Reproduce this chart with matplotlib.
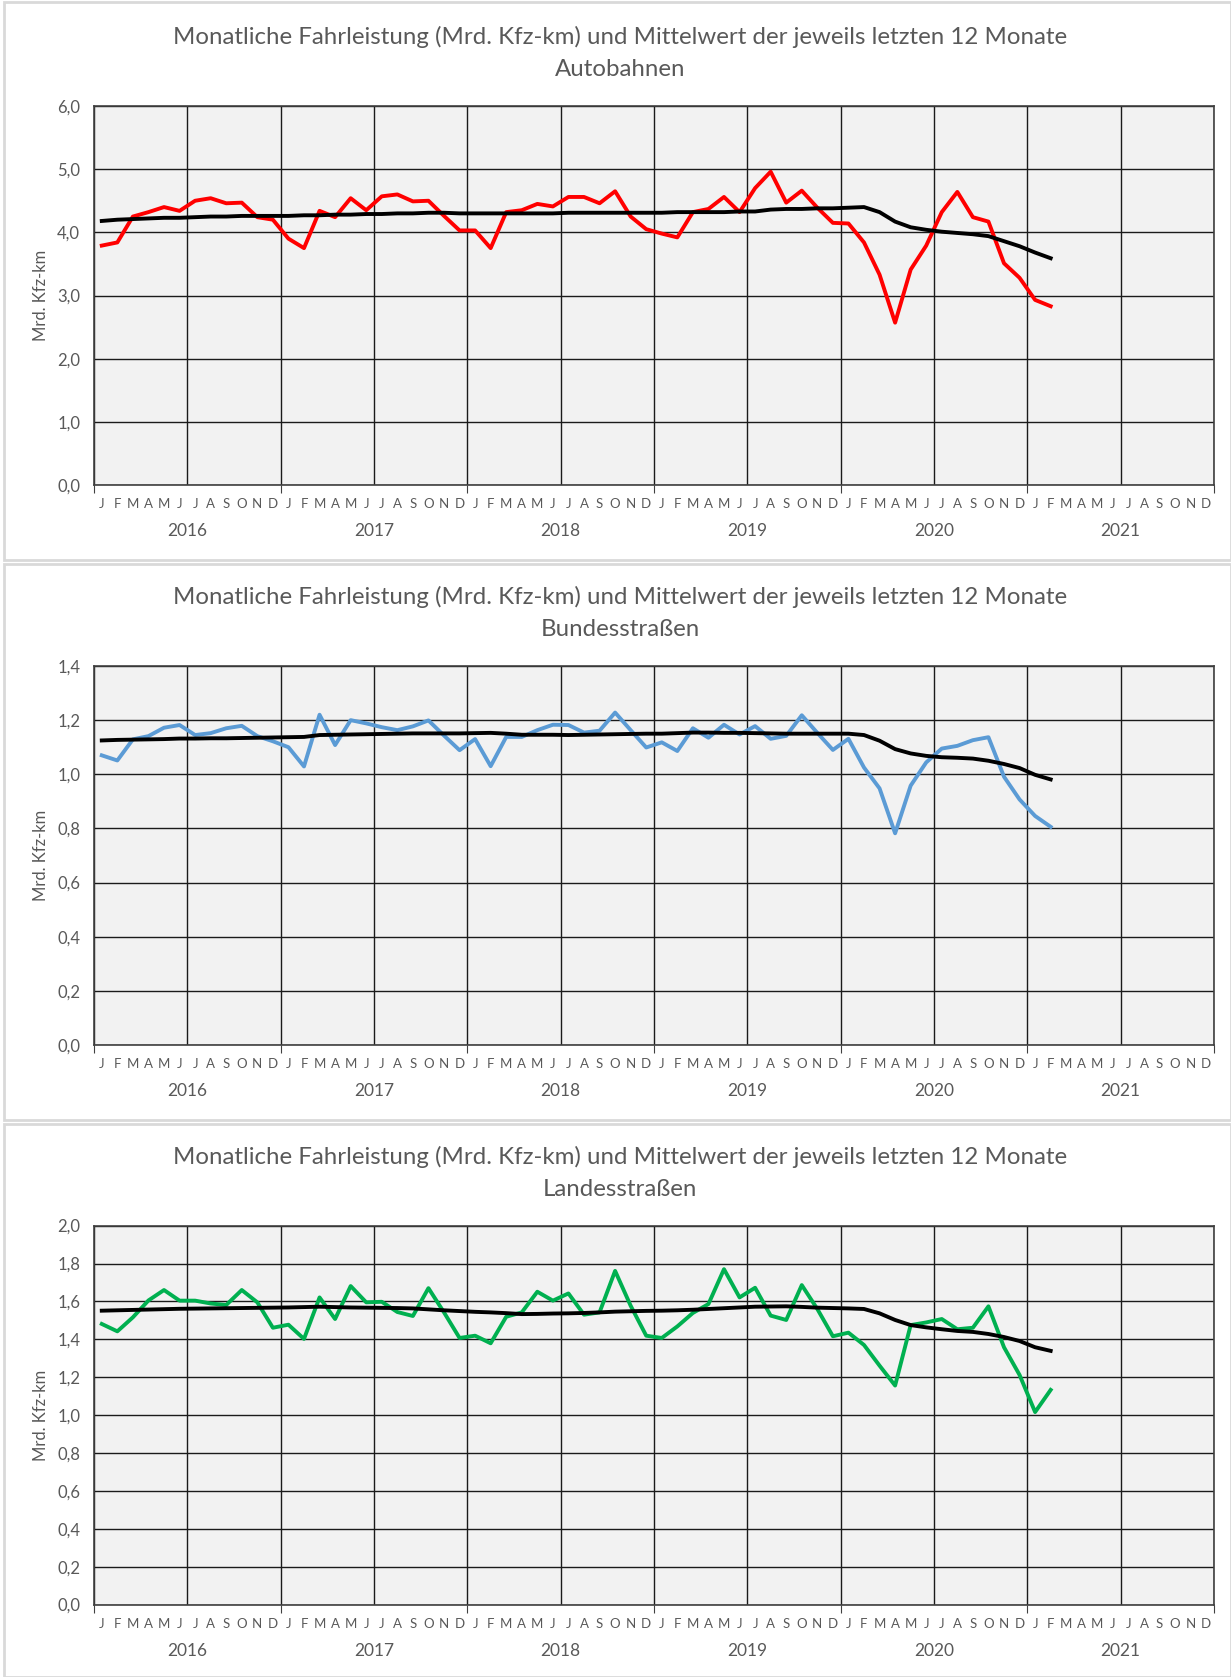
import matplotlib.pyplot as plt
from matplotlib.patches import Rectangle
import numpy as np

plt.rcParams['font.family'] = ['Lato', 'DejaVu Sans']

W, H = 1231, 1677
GREY = "#595959"

months = ["J", "F", "M", "A", "M", "J", "J", "A", "S", "O", "N", "D"]
years = ["2016", "2017", "2018", "2019", "2020", "2021"]
title_main = "Monatliche Fahrleistung (Mrd. Kfz-km) und Mittelwert der jeweils letzten 12 Monate"
subtitles = ["Autobahnen", "Bundesstraßen", "Landesstraßen"]
ylabel = "Mrd. Kfz-km"

# Jan 2016 .. Feb 2021
autobahn = [3.79, 3.84, 4.25, 4.32, 4.40, 4.34, 4.50, 4.54, 4.46, 4.47, 4.24, 4.20,
            3.90, 3.75, 4.34, 4.24, 4.54, 4.35, 4.57, 4.60, 4.49, 4.50, 4.26, 4.03,
            4.03, 3.75, 4.32, 4.35, 4.45, 4.41, 4.56, 4.56, 4.46, 4.65, 4.25, 4.05,
            3.98, 3.92, 4.32, 4.37, 4.56, 4.32, 4.70, 4.96, 4.47, 4.66, 4.39, 4.15,
            4.14, 3.84, 3.33, 2.57, 3.41, 3.79, 4.32, 4.64, 4.24, 4.17, 3.51, 3.28,
            2.93, 2.83]
autobahn_avg = [4.18, 4.20, 4.21, 4.22, 4.23, 4.23, 4.24, 4.25, 4.25, 4.26, 4.26, 4.26,
                4.26, 4.27, 4.27, 4.28, 4.28, 4.29, 4.29, 4.30, 4.30, 4.31, 4.31, 4.30,
                4.30, 4.30, 4.30, 4.30, 4.30, 4.30, 4.31, 4.31, 4.31, 4.31, 4.31, 4.31,
                4.31, 4.32, 4.32, 4.32, 4.32, 4.33, 4.33, 4.36, 4.37, 4.37, 4.38, 4.38,
                4.39, 4.40, 4.32, 4.17, 4.08, 4.04, 4.01, 3.99, 3.97, 3.94, 3.86, 3.78,
                3.68, 3.59]

bund = [1.070, 1.051, 1.129, 1.141, 1.172, 1.182, 1.145, 1.152, 1.170, 1.179, 1.141, 1.122,
        1.100, 1.029, 1.220, 1.108, 1.200, 1.188, 1.174, 1.163, 1.177, 1.199, 1.143, 1.089,
        1.130, 1.030, 1.138, 1.138, 1.163, 1.183, 1.182, 1.154, 1.161, 1.228, 1.163, 1.099,
        1.118, 1.086, 1.170, 1.135, 1.183, 1.147, 1.178, 1.131, 1.142, 1.218, 1.153, 1.090,
        1.131, 1.025, 0.948, 0.782, 0.958, 1.044, 1.095, 1.105, 1.126, 1.137, 0.991, 0.907,
        0.846, 0.806]
bund_avg = [1.125, 1.127, 1.128, 1.129, 1.130, 1.132, 1.132, 1.133, 1.133, 1.134, 1.135, 1.136,
            1.137, 1.138, 1.145, 1.146, 1.147, 1.148, 1.149, 1.150, 1.151, 1.151, 1.151, 1.151,
            1.152, 1.153, 1.150, 1.146, 1.146, 1.146, 1.145, 1.146, 1.147, 1.148, 1.149, 1.150,
            1.150, 1.152, 1.154, 1.154, 1.153, 1.153, 1.152, 1.151, 1.150, 1.150, 1.150, 1.150,
            1.150, 1.145, 1.124, 1.093, 1.077, 1.068, 1.063, 1.061, 1.058, 1.050, 1.038, 1.023,
            0.998, 0.981]

land = [1.481, 1.442, 1.516, 1.605, 1.660, 1.604, 1.604, 1.589, 1.581, 1.660, 1.595, 1.461,
        1.477, 1.402, 1.621, 1.507, 1.681, 1.595, 1.598, 1.544, 1.523, 1.670, 1.542, 1.407,
        1.419, 1.379, 1.519, 1.542, 1.651, 1.604, 1.642, 1.530, 1.542, 1.761, 1.577, 1.419,
        1.407, 1.468, 1.539, 1.586, 1.770, 1.621, 1.672, 1.525, 1.502, 1.686, 1.560, 1.416,
        1.435, 1.370, 1.261, 1.156, 1.475, 1.489, 1.507, 1.453, 1.461, 1.574, 1.358, 1.212,
        1.016, 1.133]
land_avg = [1.551, 1.553, 1.555, 1.557, 1.559, 1.561, 1.562, 1.563, 1.564, 1.565, 1.566, 1.567,
            1.568, 1.570, 1.572, 1.570, 1.568, 1.567, 1.566, 1.565, 1.563, 1.558, 1.553, 1.549,
            1.545, 1.542, 1.538, 1.533, 1.534, 1.536, 1.537, 1.539, 1.542, 1.546, 1.548, 1.550,
            1.551, 1.553, 1.556, 1.560, 1.564, 1.568, 1.572, 1.573, 1.574, 1.571, 1.567, 1.565,
            1.563, 1.560, 1.537, 1.502, 1.475, 1.463, 1.453, 1.444, 1.439, 1.428, 1.412, 1.391,
            1.358, 1.339]

series = [(autobahn, autobahn_avg, "#ff0000", 6.0, 1.0),
          (bund, bund_avg, "#5b9bd5", 1.4, 0.2),
          (land, land_avg, "#00b050", 2.0, 0.2)]

fig = plt.figure(figsize=(W / 100, H / 100), dpi=100)

offsets = [0, 560, 1119.6]
for p, (vals, avg, col, ymax, ystep) in enumerate(series):
    off = offsets[p]
    # panel frame
    top = off + 2 if p == 0 else off + 4
    bot = off + 560 if p < 2 else H
    fig.patches.append(Rectangle((4 / W, 1 - bot / H), (W - 4) / W, (bot - top) / H,
                                 transform=fig.transFigure, fill=False,
                                 edgecolor="#d9d9d9", lw=2))

    y0, y1 = off + 106, off + 485
    ax = fig.add_axes([94 / W, 1 - y1 / H, 1120 / W, (y1 - y0) / H])
    ax.set_facecolor("#f2f2f2")
    x = np.arange(len(vals))
    ax.plot(x, vals, color=col, lw=2.8, zorder=3)
    ax.plot(x, avg, color="black", lw=2.8, zorder=4)

    ax.set_xlim(-0.5, 71.5)
    ax.set_ylim(0, ymax)
    yt = np.arange(0, ymax + ystep / 2, ystep)
    ax.set_yticks(yt)
    ax.set_yticklabels([f"{v:.1f}".replace(".", ",") for v in yt])
    ax.set_xticks(np.arange(-0.5, 72, 12))
    ax.set_xticks(np.arange(5.5, 72, 12), minor=True)
    ax.set_xticklabels([])
    ax.grid(True, which="both", color="#1a1a1a", lw=1)
    ax.set_axisbelow(True)
    ax.tick_params(axis="x", which="major", length=6, color="#404040", direction="out")
    ax.tick_params(axis="x", which="minor", length=0)
    ax.tick_params(axis="y", length=0, labelsize=12, labelcolor=GREY, pad=10)
    for s in ax.spines.values():
        s.set_color("#404040")
        s.set_linewidth(1.2)

    h = y1 - y0
    tr = ax.get_xaxis_transform()
    for i in range(72):
        ax.text(i, -19 / h, months[i % 12], transform=tr, ha="center", va="center",
                fontsize=9.5, color=GREY)
    for k, yr in enumerate(years):
        ax.text(12 * k + 5.5, -46 / h, yr, transform=tr, ha="center", va="center",
                fontsize=12.5, color=GREY)

    fig.text(41 / W, 1 - (y0 + y1) / 2 / H, ylabel, rotation=90, ha="center",
             va="center", fontsize=12, color=GREY)
    fig.text(620 / W, 1 - (off + 37) / H, title_main, ha="center", va="center",
             fontsize=17.3, color=GREY)
    fig.text(620 / W, 1 - (off + 70) / H, subtitles[p], ha="center", va="center",
             fontsize=17.3, color=GREY)

fig.savefig("out.png", dpi=100, facecolor="white")
